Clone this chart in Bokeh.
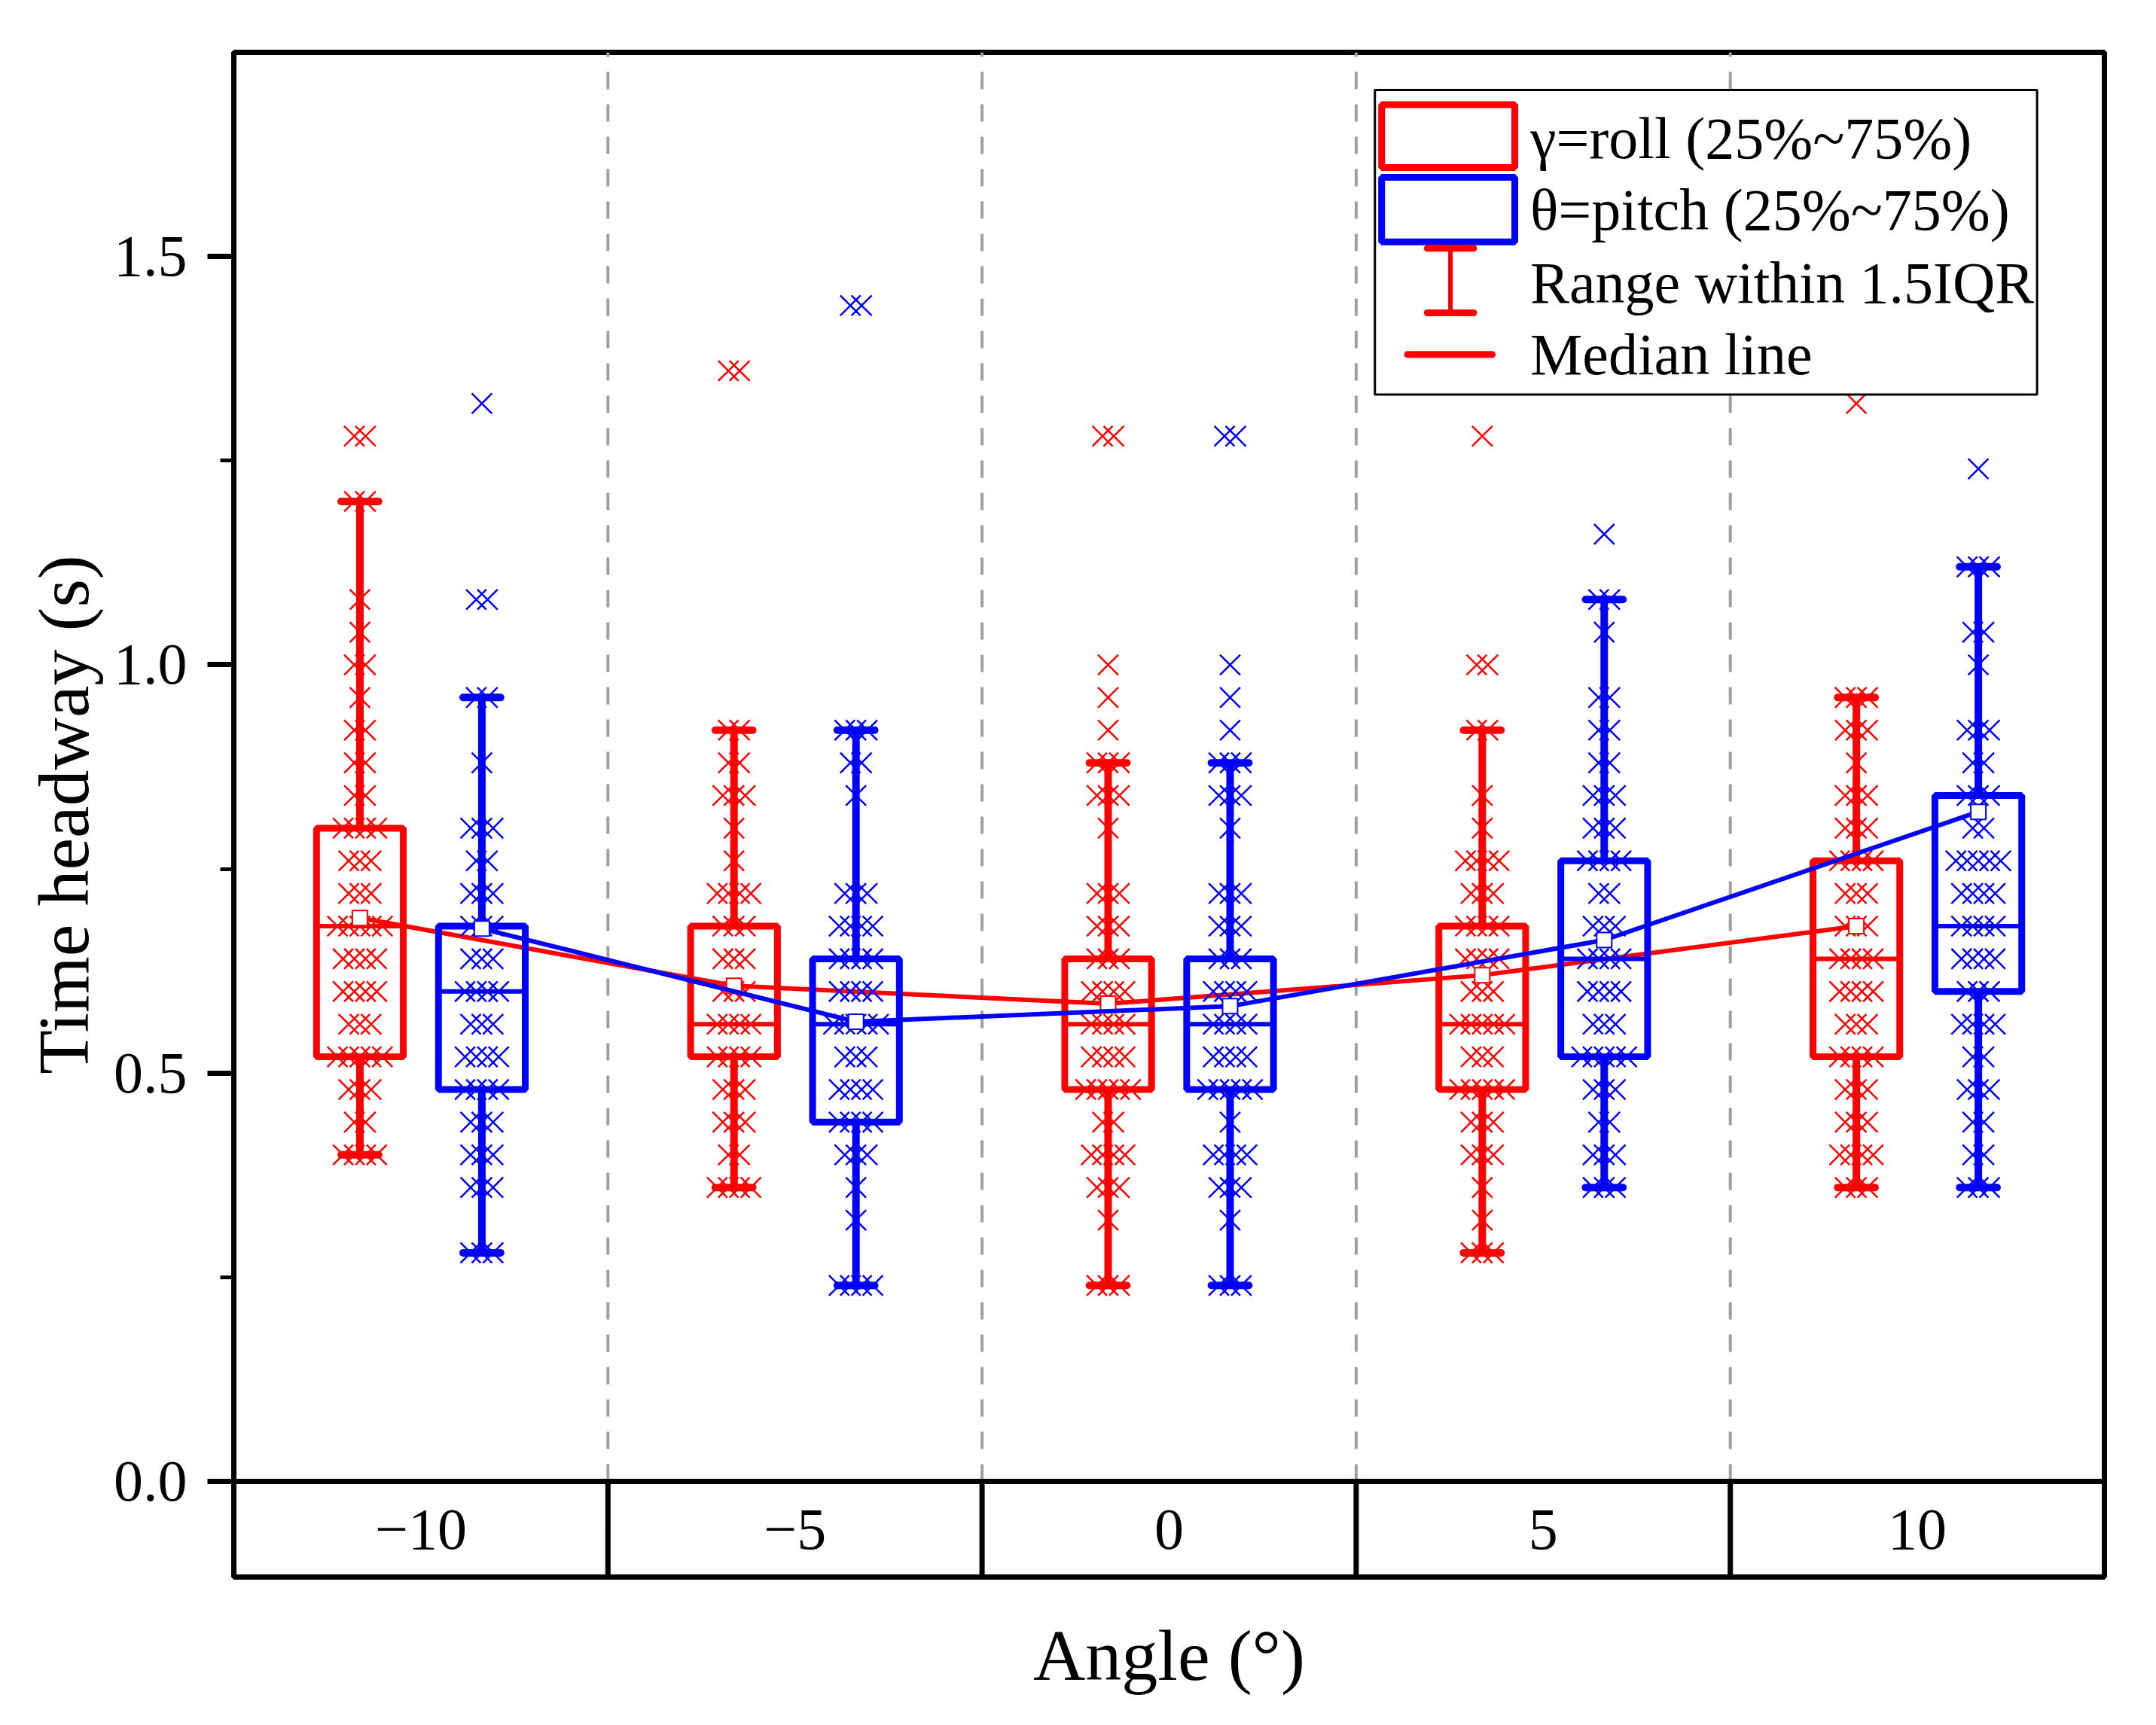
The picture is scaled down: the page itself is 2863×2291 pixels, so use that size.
from bokeh.plotting import figure
from bokeh.models import FixedTicker, PrintfTickFormatter, ColumnDataSource
from bokeh.core.properties import value
from bokeh.embed import file_html
from bokeh.resources import INLINE

FONT = "Liberation Serif"

# Categories (angle, degrees)
angles = ["\u221210", "\u22125", "0", "5", "10"]

# Box statistics: gamma = roll
roll_q1 = [0.52, 0.52, 0.48, 0.48, 0.52]
roll_med = [0.68, 0.56, 0.56, 0.56, 0.64]
roll_q3 = [0.80, 0.68, 0.64, 0.68, 0.76]
roll_lo = [0.40, 0.36, 0.24, 0.28, 0.36]
roll_hi = [1.20, 0.92, 0.88, 0.92, 0.96]
roll_mean = [0.69, 0.607, 0.585, 0.62, 0.68]

# theta = pitch
pitch_q1 = [0.48, 0.44, 0.48, 0.52, 0.60]
pitch_med = [0.60, 0.56, 0.56, 0.64, 0.68]
pitch_q3 = [0.68, 0.64, 0.64, 0.76, 0.84]
pitch_lo = [0.28, 0.24, 0.24, 0.36, 0.36]
pitch_hi = [0.96, 0.92, 0.88, 1.08, 1.12]
pitch_mean = [0.677, 0.563, 0.582, 0.663, 0.82]

# Raw points: levels and how many crosses sit on each level
roll_m10_lv = [1.28, 1.20, 1.08, 1.04, 1.00, 0.96, 0.92, 0.88, 0.84, 0.80, 0.76, 0.72, 0.68, 0.64, 0.60, 0.56, 0.52, 0.48, 0.44, 0.40]
roll_m10_n = [2, 2, 1, 1, 2, 1, 2, 2, 2, 4, 3, 3, 5, 4, 4, 3, 5, 3, 2, 4]
pitch_m10_lv = [1.32, 1.08, 0.96, 0.88, 0.80, 0.76, 0.72, 0.68, 0.64, 0.60, 0.56, 0.52, 0.48, 0.44, 0.40, 0.36, 0.28]
pitch_m10_n = [1, 2, 2, 1, 3, 2, 3, 3, 3, 4, 3, 4, 4, 3, 3, 3, 3]

roll_m5_lv = [1.36, 0.92, 0.88, 0.84, 0.80, 0.76, 0.72, 0.68, 0.64, 0.60, 0.56, 0.52, 0.48, 0.44, 0.40, 0.36]
roll_m5_n = [2, 2, 2, 3, 1, 1, 4, 3, 3, 3, 4, 4, 3, 3, 2, 4]
pitch_m5_lv = [1.44, 0.92, 0.88, 0.84, 0.72, 0.68, 0.64, 0.60, 0.56, 0.52, 0.48, 0.44, 0.40, 0.36, 0.32, 0.24]
pitch_m5_n = [2, 3, 2, 1, 3, 4, 4, 4, 5, 3, 4, 4, 3, 1, 1, 4]

roll_0_lv = [1.28, 1.00, 0.96, 0.92, 0.88, 0.84, 0.80, 0.72, 0.68, 0.64, 0.60, 0.56, 0.52, 0.48, 0.44, 0.40, 0.36, 0.32, 0.24]
roll_0_n = [2, 1, 1, 1, 3, 3, 1, 3, 3, 3, 4, 4, 4, 5, 2, 4, 3, 1, 3]
pitch_0_lv = [1.28, 1.00, 0.96, 0.92, 0.88, 0.84, 0.80, 0.72, 0.68, 0.64, 0.60, 0.56, 0.52, 0.48, 0.44, 0.40, 0.36, 0.32, 0.24]
pitch_0_n = [2, 1, 1, 1, 3, 3, 1, 3, 3, 3, 4, 4, 4, 5, 1, 4, 3, 1, 3]

roll_5_lv = [1.28, 1.00, 0.92, 0.84, 0.80, 0.76, 0.72, 0.68, 0.64, 0.60, 0.56, 0.52, 0.48, 0.44, 0.40, 0.36, 0.32, 0.28]
roll_5_n = [1, 2, 2, 1, 1, 4, 3, 4, 4, 3, 5, 3, 5, 3, 3, 1, 1, 3]
pitch_5_lv = [1.16, 1.08, 1.04, 0.96, 0.92, 0.88, 0.84, 0.80, 0.76, 0.72, 0.68, 0.64, 0.60, 0.56, 0.52, 0.48, 0.44, 0.40, 0.36]
pitch_5_n = [1, 2, 1, 2, 2, 2, 3, 3, 4, 2, 3, 4, 4, 3, 5, 3, 2, 3, 3]

roll_10_lv = [1.32, 0.96, 0.92, 0.88, 0.84, 0.80, 0.76, 0.72, 0.68, 0.64, 0.60, 0.56, 0.52, 0.48, 0.44, 0.40, 0.36]
roll_10_n = [1, 3, 3, 1, 3, 3, 4, 3, 3, 4, 4, 3, 4, 3, 3, 4, 3]
pitch_10_lv = [1.24, 1.12, 1.04, 1.00, 0.92, 0.88, 0.84, 0.80, 0.76, 0.72, 0.68, 0.64, 0.60, 0.56, 0.52, 0.48, 0.44, 0.40, 0.36]
pitch_10_n = [1, 3, 2, 1, 3, 2, 3, 2, 5, 4, 4, 4, 3, 4, 2, 3, 2, 2, 3]

roll_pts = [(roll_m10_lv, roll_m10_n), (roll_m5_lv, roll_m5_n), (roll_0_lv, roll_0_n),
            (roll_5_lv, roll_5_n), (roll_10_lv, roll_10_n)]
pitch_pts = [(pitch_m10_lv, pitch_m10_n), (pitch_m5_lv, pitch_m5_n), (pitch_0_lv, pitch_0_n),
             (pitch_5_lv, pitch_5_n), (pitch_10_lv, pitch_10_n)]

RED = "#ff0000"
BLUE = "#0000ff"
OFF = 0.163     # half distance between the two boxes of a group
HALF_W = 0.116  # half box width
CAP = 0.05      # half cap width
Y_BOT = -0.117  # bottom of the label strip

p = figure(width=2850, height=2280, x_range=(0, 5), y_range=(Y_BOT, 1.75),
           output_backend="svg", toolbar_location=None,
           min_border_left=310, min_border_top=69, min_border_right=56, min_border_bottom=186)
p.grid.visible = False
p.outline_line_color = "black"
p.outline_line_width = 7

# y axis
p.yaxis.ticker = FixedTicker(ticks=[0, 0.5, 1.0, 1.5], minor_ticks=[0.25, 0.75, 1.25])
p.yaxis.formatter = PrintfTickFormatter(format="%.1f")
p.yaxis.axis_line_color = None
p.yaxis.major_tick_in = 0
p.yaxis.major_tick_out = 35
p.yaxis.major_tick_line_width = 7
p.yaxis.minor_tick_in = 0
p.yaxis.minor_tick_out = 18
p.yaxis.minor_tick_line_width = 5
p.yaxis.major_label_standoff = 27
p.yaxis.major_label_text_font = FONT
p.yaxis.major_label_text_font_size = "78px"
p.yaxis.major_label_text_color = "black"
p.yaxis.axis_label = "Time headway (s)"
p.yaxis.axis_label_text_font = FONT
p.yaxis.axis_label_text_font_size = "96px"
p.yaxis.axis_label_text_font_style = "normal"
p.yaxis.axis_label_text_color = "black"
p.yaxis.axis_label_standoff = 10

# x axis: only the title, categories are written in the strip
p.xaxis.ticker = FixedTicker(ticks=[])
p.xaxis.axis_line_color = None
p.xaxis.major_tick_line_color = None
p.xaxis.minor_tick_line_color = None
p.xaxis.major_label_text_font_size = "0px"
p.xaxis.axis_label = "Angle (\u00b0)"
p.xaxis.axis_label_text_font = FONT
p.xaxis.axis_label_text_font_size = "96px"
p.xaxis.axis_label_text_font_style = "normal"
p.xaxis.axis_label_text_color = "black"
p.xaxis.axis_label_standoff = 50

centers = [i + 0.5 for i in range(len(angles))]
seps = [i for i in range(1, len(angles))]

# group separators: dashed inside the plot, solid in the label strip
p.segment(x0=seps, y0=[0] * len(seps), x1=seps, y1=[1.75] * len(seps),
          line_color="#a0a0a0", line_width=4, line_dash="23 20")
p.segment(x0=seps, y0=[Y_BOT] * len(seps), x1=seps, y1=[0] * len(seps),
          line_color="black", line_width=7)
p.segment(x0=[0], y0=[0], x1=[5], y1=[0], line_color="black", line_width=7)
p.text(x=centers, y=[Y_BOT / 2] * len(centers), text=angles, text_align="center",
       text_baseline="middle", text_font=value(FONT), text_font_size="78px", text_color="black")


def draw_series(shift, q1, med, q3, lo, hi, mean, pts, color):
    xs = [c + shift for c in centers]
    # whiskers and caps
    p.segment(x0=xs, y0=lo, x1=xs, y1=q1, line_color=color, line_width=10)
    p.segment(x0=xs, y0=q3, x1=xs, y1=hi, line_color=color, line_width=10)
    p.segment(x0=[x - CAP for x in xs], y0=lo, x1=[x + CAP for x in xs], y1=lo,
              line_color=color, line_width=10, line_cap="round")
    p.segment(x0=[x - CAP for x in xs], y0=hi, x1=[x + CAP for x in xs], y1=hi,
              line_color=color, line_width=10, line_cap="round")
    # points with a small side spread for overlapping values
    px, py = [], []
    for x, (levels, counts) in zip(xs, pts):
        for lv, n in zip(levels, counts):
            for k in range(n):
                px.append(x + (k - (n - 1) / 2) * 0.03)
                py.append(lv)
    p.scatter(px, py, marker="x", size=38, line_color=color, line_width=2.5)
    # box and median
    p.quad(left=[x - HALF_W for x in xs], right=[x + HALF_W for x in xs], bottom=q1, top=q3,
           fill_alpha=0, line_color=color, line_width=9)
    p.segment(x0=[x - HALF_W for x in xs], y0=med, x1=[x + HALF_W for x in xs], y1=med,
              line_color=color, line_width=6)
    # connecting line and centre markers
    p.line(xs, mean, line_color=color, line_width=6)
    p.scatter(xs, mean, marker="square", size=20, fill_color="white", line_color=color, line_width=2)


draw_series(-OFF, roll_q1, roll_med, roll_q3, roll_lo, roll_hi, roll_mean, roll_pts, RED)
draw_series(OFF, pitch_q1, pitch_med, pitch_q3, pitch_lo, pitch_hi, pitch_mean, pitch_pts, BLUE)

# legend box drawn in data space
p.quad(left=[3.05], right=[4.82], bottom=[1.331], top=[1.704], fill_color="white",
       line_color="black", line_width=3)
p.quad(left=[3.068], right=[3.424], bottom=[1.609], top=[1.686], fill_alpha=0,
       line_color=RED, line_width=9)
p.quad(left=[3.068], right=[3.424], bottom=[1.518], top=[1.597], fill_alpha=0,
       line_color=BLUE, line_width=9)
p.segment(x0=[3.252], y0=[1.431], x1=[3.252], y1=[1.510], line_color=RED, line_width=6)
p.segment(x0=[3.19, 3.19], y0=[1.431, 1.510], x1=[3.314, 3.314], y1=[1.431, 1.510],
          line_color=RED, line_width=9, line_cap="round")
p.segment(x0=[3.137], y0=[1.380], x1=[3.364], y1=[1.380], line_color=RED, line_width=9,
          line_cap="round")
legend_src = ColumnDataSource(data=dict(
    x=[3.465] * 4,
    y=[1.645, 1.557, 1.468, 1.380],
    t=["\u03b3=roll (25%~75%)", "\u03b8=pitch (25%~75%)", "Range within 1.5IQR", "Median line"],
))
p.text(x="x", y="y", text="t", source=legend_src, text_align="left", text_baseline="middle",
       text_font=value(FONT), text_font_size="78px", text_color="black")

open("out.html", "w").write(file_html(p, INLINE))
